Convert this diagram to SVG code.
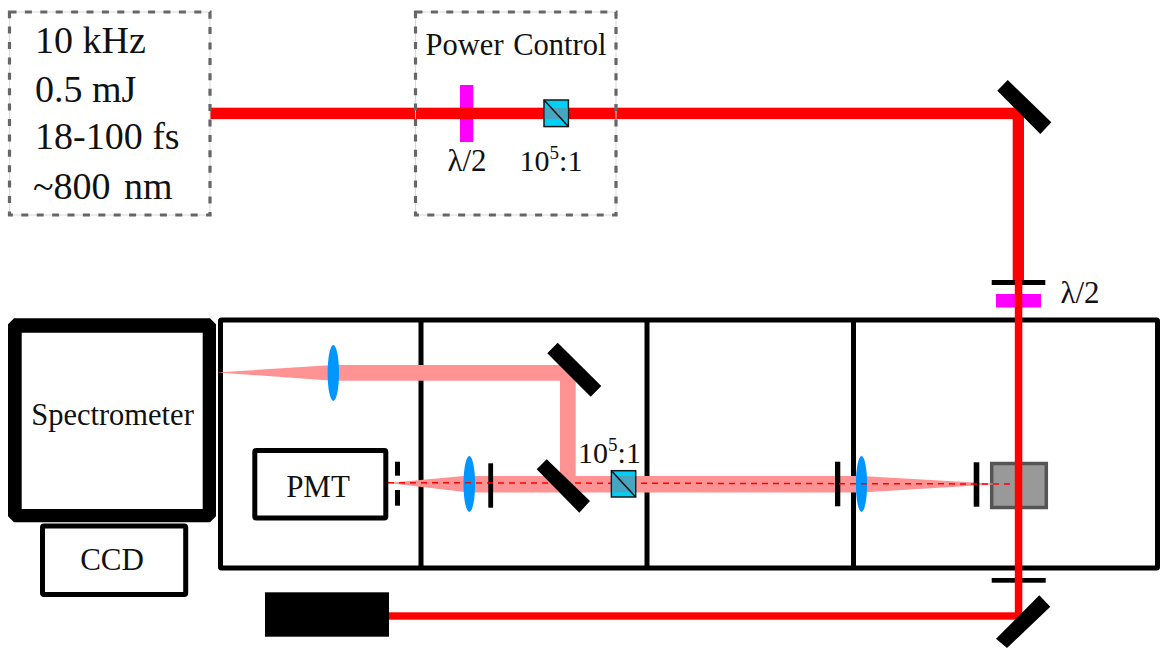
<svg xmlns="http://www.w3.org/2000/svg" width="1160" height="648" viewBox="0 0 1160 648">
<style>
text{font-family:"Liberation Serif","Times New Roman",serif;fill:#111}
.dashbase{fill:none;stroke:#d9d9d9;stroke-width:1}
.dash{fill:none;stroke:#666;stroke-width:3.200;stroke-dasharray:7 8.400}
.box{fill:none;stroke:#000;stroke-width:5}
.red{fill:#f00}
.pink{fill:#ff9393}
.blk{fill:#000}
.mag{fill:#f0f}
.lens{fill:#0096ff}
.cube{fill:#00d0f8;stroke:#1a1a1a;stroke-width:1.500}
.cubeb{fill:#48a5c0}
.diag{stroke:#1a1010;stroke-width:1.500}
</style>
<g id="enclosure">
<rect class="box" x="220.500" y="320" width="937" height="248" rx="1"/>
<path class="box" d="M421 320V568M647 320V568M853.500 320V568"/>
</g>
<g id="sample"><rect x="991.700" y="463.500" width="54.600" height="44" fill="#999" stroke="#555" stroke-width="3.500"/></g>
<g id="iris-top"><rect class="blk" x="991.700" y="280" width="53.600" height="5"/></g>
<g id="iris-bottom"><rect class="blk" x="991.700" y="578" width="54" height="4.700"/></g>
<g id="waveplate2"><rect class="mag" x="996" y="294" width="45" height="13.500"/>
<text x="1080" y="303" font-size="31" text-anchor="middle">λ/2</text></g>
<g id="waveplate1"><rect class="mag" x="460" y="85" width="13.300" height="57"/></g>
<g id="connectors">
<path class="pink" d="M217 372.500 333 365H575.700V483H560V380.700H333Z"/>
<path class="pink" d="M388 483 469 475.500 470 476H861.500L1000 484 861.500 492.500H469Z"/>
<rect class="red" x="210" y="107.700" width="814" height="11.400"/>
<rect class="red" x="1012.700" y="107.700" width="11.300" height="172.300"/>
<rect class="red" x="1014.800" y="280" width="7.500" height="338"/>
<rect class="red" x="388" y="612.300" width="634.300" height="7.400"/>
</g>
<g id="lens1"><ellipse class="lens" cx="333.300" cy="373" rx="5.700" ry="28"/></g>
<g id="lens2"><ellipse class="lens" cx="469.300" cy="484" rx="5.800" ry="28"/></g>
<g id="lens3"><ellipse class="lens" cx="861.500" cy="484" rx="5.600" ry="28"/></g>
<g id="iris2"><rect class="blk" x="488.300" y="463.300" width="4.800" height="44.400"/></g>
<g id="iris3"><rect class="blk" x="835" y="461.700" width="5.300" height="44.600"/></g>
<g id="iris4"><rect class="blk" x="973.700" y="462.300" width="5.600" height="44.400"/></g>
<g id="connector-dashed"><path d="M388 482.700 1011 484" stroke="#f00" stroke-width="1.500" stroke-dasharray="6 5" fill="none"/></g>
<g id="laser-info">
<rect class="dashbase" x="9.500" y="12" width="200.500" height="203"/>
<rect class="dash" x="9.500" y="12" width="200.500" height="203"/>
<text x="35" y="53" font-size="38">10 kHz</text>
<text x="35" y="101.500" font-size="38">0.5 mJ</text>
<text x="35" y="149" font-size="38">18-100 fs</text>
<text x="33" y="198.500" font-size="38" word-spacing="4">~800 nm</text>
</g>
<g id="power-control">
<rect class="dashbase" x="415.500" y="12" width="200.500" height="203"/>
<rect class="dash" x="415.500" y="12" width="200.500" height="203"/>
<text x="516" y="55" font-size="30.500" text-anchor="middle" word-spacing="2">Power Control</text>
<text x="467" y="171" font-size="31" text-anchor="middle">λ/2</text>
<rect class="cube" x="544" y="100" width="24.400" height="26.600"/>
<rect class="cubeb" x="544.800" y="108" width="22.800" height="11"/>
<path class="diag" d="M544 100 568.400 126.600"/>
<text x="551" y="171" font-size="30" text-anchor="middle">10<tspan font-size="19" dy="-12">5</tspan><tspan dy="12">:1</tspan></text>
</g>
<g id="mirror-top"><path class="blk" d="M1007.700 80 1051.300 122.300 1040.300 134 997.300 90.700Z"/></g>
<g id="spectrometer"><path fill-rule="evenodd" d="M14 318.300H210L216 324.300V516.300L210 522.300H14L8 516.300V324.300ZM21.700 332.700V509H202.700V332.700Z" class="blk"/>
<text x="112.500" y="425" font-size="30.500" text-anchor="middle">Spectrometer</text></g>
<g id="ccd"><rect class="box" x="42.500" y="526" width="143.200" height="68.500" rx="1.500"/><text x="112" y="570" font-size="31" text-anchor="middle">CCD</text></g>
<g id="pmt"><rect class="box" x="254.800" y="450.500" width="131" height="67.500" rx="1.500"/><text x="318" y="497" font-size="31" text-anchor="middle">PMT</text></g>
<g id="pmt-slit"><rect class="blk" x="395" y="461.700" width="5" height="14"/><rect class="blk" x="395" y="490" width="5" height="15.700"/></g>
<g id="mirror2"><path class="blk" d="M557.700 342.700 601.300 386 590.700 396.700 547.300 353.300Z"/></g>
<g id="mirror3"><path class="blk" d="M546.700 459.300 590 501 579.300 512.700 536.700 469.300Z"/></g>
<g id="cube2"><rect class="cube" x="611.400" y="470.700" width="24.300" height="26.300"/><rect class="cubeb" x="612.200" y="476" width="22.800" height="16.300"/><path class="diag" d="M611.400 470.700 635.700 497"/>
<text x="609.500" y="463" font-size="30" text-anchor="middle">10<tspan font-size="19" dy="-12">5</tspan><tspan dy="12">:1</tspan></text></g>
<g id="mirror-bottom"><path class="blk" d="M1039.300 595.300 1050.300 606.700 1007 648 996 638.700Z"/></g>
<g id="beam-dump"><rect class="blk" x="265" y="592.300" width="124" height="44.400"/></g>
</svg>
